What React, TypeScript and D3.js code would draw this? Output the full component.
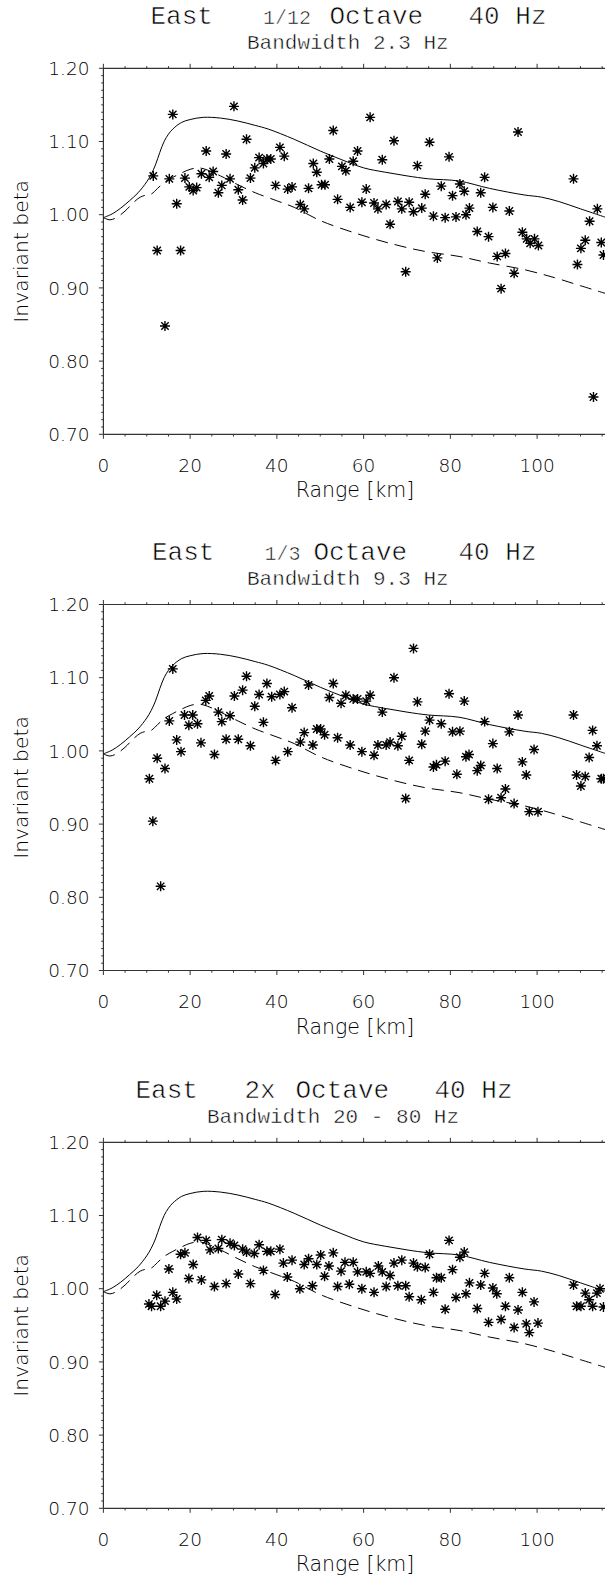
import React from 'react';
import * as d3 from 'd3';

// ---------- shared axis data ----------
const xTickValues = [0, 20, 40, 60, 80, 100];
const xMinorStep = 5;
const yTickValues = [0.7, 0.8, 0.9, 1.0, 1.1, 1.2];
const yTickLabels = ['0.70', '0.80', '0.90', '1.00', '1.10', '1.20'];
const yMinorStep = 0.01;
const xDomain = [0, 116];
const yDomain = [0.7, 1.2];

// ---------- model curves (same in every panel) ----------
const upperRange = [0, 2, 4, 6, 8, 10, 11, 12, 13, 14, 15, 16, 18, 20, 23, 27, 31, 35, 38, 44, 50, 55, 60, 65, 70, 75, 82, 89, 97, 101, 105, 110, 116];
const upperBeta = [0.996, 1.001, 1.009, 1.019, 1.030, 1.045, 1.055, 1.068, 1.085, 1.100, 1.110, 1.117, 1.126, 1.130, 1.133, 1.132, 1.128, 1.122, 1.117, 1.103, 1.087, 1.075, 1.064, 1.058, 1.053, 1.049, 1.046, 1.036, 1.027, 1.024, 1.018, 1.008, 0.996];
const lowerRange = [0, 1.5, 3, 5, 7, 8.5, 10, 11, 12.5, 14, 16, 18, 20, 22, 24, 27, 31, 35, 40, 44, 50, 58, 66, 74, 82, 89, 97, 104, 110, 116];
const lowerBeta = [0.996, 0.993, 0.996, 1.005, 1.017, 1.024, 1.027, 1.028, 1.036, 1.044, 1.051, 1.057, 1.062, 1.064, 1.061, 1.053, 1.041, 1.030, 1.019, 1.010, 0.992, 0.975, 0.961, 0.950, 0.943, 0.934, 0.925, 0.914, 0.903, 0.892];

// ---------- panel 1: 1/12 octave ----------
const p1Range = [11.5, 12.4, 14.2, 15.2, 16.0, 16.9, 17.8, 18.8, 19.8, 20.7, 21.5, 22.6, 23.7, 24.4, 25.3, 26.5, 27.3, 28.3, 29.2, 30.1, 31.1, 32.1, 33.0, 33.9, 34.9, 35.9, 36.9, 37.7, 38.6, 39.7, 40.7, 41.7, 42.5, 43.5, 45.4, 46.3, 47.3, 48.4, 49.2, 50.3, 51.1, 52.1, 53.0, 54.0, 55.0, 55.9, 56.9, 57.6, 58.6, 59.6, 60.6, 61.5, 62.4, 63.3, 64.3, 65.2, 66.1, 67.0, 67.9, 68.8, 69.7, 70.5, 71.5, 72.4, 73.4, 74.2, 75.2, 76.1, 77.0, 77.9, 78.8, 79.7, 80.5, 81.3, 82.2, 83.2, 83.6, 84.4, 86.2, 87.0, 87.9, 88.8, 89.8, 90.8, 91.7, 92.7, 93.6, 94.7, 95.6, 96.6, 97.6, 98.4, 99.4, 100.3, 108.4, 109.3, 110.1, 111.1, 112.1, 113.0, 113.9, 114.8, 115.3];
const p1Beta = [1.053, 0.951, 0.848, 1.049, 1.137, 1.015, 0.951, 1.050, 1.038, 1.033, 1.037, 1.056, 1.087, 1.051, 1.059, 1.030, 1.040, 1.083, 1.049, 1.148, 1.034, 1.020, 1.103, 1.050, 1.064, 1.078, 1.070, 1.076, 1.076, 1.040, 1.092, 1.080, 1.035, 1.038, 1.014, 1.008, 1.036, 1.070, 1.058, 1.041, 1.041, 1.076, 1.115, 1.021, 1.066, 1.060, 1.010, 1.073, 1.087, 1.017, 1.035, 1.133, 1.016, 1.008, 1.075, 1.014, 0.987, 1.101, 1.018, 1.008, 0.922, 1.017, 1.004, 1.067, 1.009, 1.028, 1.099, 0.998, 0.941, 1.039, 0.996, 1.079, 1.026, 0.997, 1.042, 1.032, 1.000, 1.009, 0.977, 1.030, 1.051, 0.970, 1.010, 0.943, 0.899, 0.947, 1.005, 0.920, 1.113, 0.976, 0.967, 0.961, 0.967, 0.958, 1.049, 0.932, 0.954, 0.965, 0.991, 0.751, 1.008, 0.962, 0.945];

// ---------- panel 2: 1/3 octave ----------
const p2Range = [10.6, 11.4, 12.4, 13.2, 14.2, 15.2, 16.0, 16.9, 17.9, 18.7, 19.7, 20.6, 21.7, 22.5, 23.6, 24.4, 25.6, 26.5, 27.3, 28.3, 29.2, 30.2, 31.1, 32.1, 33.0, 33.9, 34.9, 35.9, 36.9, 37.7, 38.8, 39.7, 40.7, 41.7, 42.5, 43.5, 45.4, 46.3, 47.3, 48.3, 49.2, 50.1, 51.0, 52.1, 53.0, 54.0, 54.8, 55.9, 56.9, 57.6, 58.6, 59.6, 60.6, 61.5, 62.4, 63.3, 64.3, 65.2, 66.1, 67.0, 67.9, 68.8, 69.7, 70.5, 71.5, 72.4, 73.4, 74.2, 75.2, 76.1, 76.8, 77.9, 78.8, 79.7, 80.5, 81.5, 82.2, 83.2, 83.6, 84.3, 86.2, 87.0, 87.9, 88.8, 89.8, 90.8, 91.7, 92.7, 93.6, 94.7, 95.6, 96.6, 97.5, 98.2, 99.3, 100.2, 108.4, 109.1, 110.1, 111.1, 112.0, 112.8, 113.8, 114.8, 115.3];
const p2Beta = [0.962, 0.904, 0.990, 0.815, 0.976, 1.041, 1.112, 1.015, 0.999, 1.049, 1.035, 1.049, 1.037, 1.011, 1.069, 1.075, 0.995, 1.053, 1.040, 1.016, 1.048, 1.075, 1.016, 1.083, 1.102, 1.007, 1.061, 1.077, 1.039, 1.092, 1.074, 0.987, 1.077, 1.081, 0.999, 1.059, 1.012, 1.025, 1.090, 1.008, 1.030, 1.030, 1.022, 1.073, 1.092, 1.018, 1.065, 1.076, 1.008, 1.071, 1.071, 0.999, 1.068, 1.076, 0.994, 1.008, 1.053, 1.008, 1.012, 1.100, 1.007, 1.020, 0.935, 0.987, 1.140, 1.067, 1.009, 1.027, 1.042, 0.978, 0.981, 1.037, 0.986, 1.078, 1.026, 0.968, 1.027, 1.068, 0.992, 0.995, 0.973, 0.980, 1.040, 0.934, 1.010, 0.976, 0.936, 0.948, 1.026, 0.928, 1.049, 0.985, 0.967, 0.917, 1.002, 0.917, 1.049, 0.967, 0.952, 0.965, 0.991, 1.028, 1.007, 0.962, 0.962];

// ---------- panel 3: 2x octave ----------
const p3Range = [10.5, 11.1, 12.3, 13.2, 14.2, 15.1, 16.0, 16.9, 17.8, 18.8, 19.7, 20.7, 21.7, 22.6, 23.7, 24.6, 25.6, 26.5, 27.3, 28.3, 29.2, 30.2, 31.1, 32.1, 33.0, 33.9, 34.8, 35.9, 36.9, 37.7, 38.6, 39.6, 40.7, 41.5, 42.4, 43.5, 45.3, 46.3, 47.3, 48.2, 49.2, 50.1, 51.0, 52.0, 53.0, 54.0, 54.8, 55.7, 56.7, 57.6, 58.6, 59.6, 60.6, 61.5, 62.4, 63.4, 64.3, 65.2, 66.1, 67.0, 67.9, 68.8, 69.7, 70.5, 71.5, 72.4, 73.3, 74.2, 75.2, 76.1, 76.8, 77.9, 78.8, 79.7, 80.5, 81.3, 82.2, 83.2, 83.6, 84.4, 86.2, 87.0, 87.9, 88.8, 89.8, 90.7, 91.7, 92.7, 93.6, 94.7, 95.6, 96.6, 97.5, 98.2, 99.3, 100.2, 108.4, 109.1, 110.1, 111.1, 112.0, 112.8, 113.8, 114.5, 115.3];
const p3Beta = [0.979, 0.976, 0.991, 0.976, 0.983, 1.027, 0.995, 0.986, 1.047, 1.049, 1.014, 1.033, 1.070, 1.012, 1.066, 1.053, 1.003, 1.055, 1.067, 1.007, 1.062, 1.059, 1.020, 1.054, 1.050, 1.007, 1.048, 1.060, 1.025, 1.051, 1.051, 0.992, 1.054, 1.035, 1.016, 1.039, 1.000, 1.033, 1.041, 1.004, 1.033, 1.046, 1.017, 1.031, 1.049, 1.003, 1.024, 1.036, 1.006, 1.036, 1.023, 1.000, 1.023, 1.021, 0.995, 1.031, 1.023, 1.003, 1.018, 1.035, 1.004, 1.039, 1.004, 0.989, 1.035, 1.030, 0.985, 1.029, 1.047, 0.995, 1.015, 1.015, 0.972, 1.066, 1.026, 0.988, 1.043, 1.050, 0.993, 1.008, 0.973, 1.005, 1.021, 0.954, 1.001, 0.993, 0.958, 0.976, 1.015, 0.947, 0.971, 0.995, 0.952, 0.940, 0.982, 0.953, 1.005, 0.976, 0.976, 0.994, 0.985, 0.976, 0.994, 1.000, 0.975];

// ---------- titles ----------
const p1Title = ['East', '1/12', 'Octave', '40 Hz'];
const p2Title = ['East', '1/3', 'Octave', '40 Hz'];
const p3Title = ['East', '2x', 'Octave', '40 Hz'];
const subtitles = ['Bandwidth 2.3 Hz', 'Bandwidth 9.3 Hz', 'Bandwidth 20 - 80 Hz'];
const xAxisTitle = 'Range [km]';
const yAxisTitle = 'Invariant beta';

// ---------- layout ----------
const W = 605;
const H = 1580;
const PLOT_LEFT = 103.4;
const PX_PER_KM = 4.337;
const PLOT_H = 366;
const MONO = "'Liberation Mono', 'DejaVu Sans Mono', monospace";
const SANS = "'DejaVu Sans', 'Liberation Sans', sans-serif";

type PanelProps = {
  top: number;
  title: string[];
  titleX: number[];
  smallIndex: number;
  subtitle: string;
  subtitleX: number;
  range: number[];
  beta: number[];
};

function Star({ x, y }: { x: number; y: number }) {
  const a = 5;
  const d = 3.7;
  return (
    <path
      d={`M${x - a},${y}H${x + a}M${x},${y - a}V${y + a}M${x - d},${y - d}L${x + d},${y + d}M${x - d},${y + d}L${x + d},${y - d}`}
      stroke="#000"
      strokeWidth={1.4}
      fill="none"
    />
  );
}

function Panel({ top, title, titleX, smallIndex, subtitle, subtitleX, range, beta }: PanelProps) {
  const x = d3.scaleLinear().domain(xDomain).range([PLOT_LEFT, PLOT_LEFT + (xDomain[1] - xDomain[0]) * PX_PER_KM]);
  const y = d3.scaleLinear().domain(yDomain).range([top + PLOT_H, top]);
  const bottom = top + PLOT_H;
  const right = x(xDomain[1]);

  const upperLine = d3.line<number>().x((_, i) => x(upperRange[i])).y((v) => y(v)).curve(d3.curveCatmullRom.alpha(0.5))(upperBeta) || '';
  const lowerLine = d3.line<number>().x((_, i) => x(lowerRange[i])).y((v) => y(v)).curve(d3.curveCatmullRom.alpha(0.5))(lowerBeta) || '';

  const xMinor = d3.range(xDomain[0], xDomain[1] + 0.001, xMinorStep).filter((v) => !xTickValues.includes(v));
  const yMinor = d3.range(0, 51).map((i) => yDomain[0] + i * yMinorStep).filter((v) => !yTickValues.some((t) => Math.abs(t - v) < 1e-6));

  const clipId = `clip-${Math.round(top)}`;
  const axisColor = '#333';

  return (
    <g>
      {/* titles (thin white outline lightens the mono face toward Courier) */}
      <text y={top - 44.6} fontFamily={MONO} fill="#000" stroke="#fff" strokeWidth={0.6}>
        {title.map((t, i) => (
          <tspan key={i} x={titleX[i]} fontSize={i === smallIndex ? 20 : 26}>
            {t}
          </tspan>
        ))}
      </text>
      <text x={subtitleX} y={top - 19.8} fontFamily={MONO} fontSize={21} fill="#000" stroke="#fff" strokeWidth={0.5}>
        {subtitle}
      </text>

      <defs>
        <clipPath id={clipId}>
          <rect x={PLOT_LEFT} y={top - 6} width={right - PLOT_LEFT} height={PLOT_H + 12} />
        </clipPath>
      </defs>

      {/* axes box */}
      <line x1={PLOT_LEFT} x2={right} y1={top} y2={top} stroke={axisColor} strokeWidth={1.2} />
      <line x1={PLOT_LEFT} x2={right} y1={bottom} y2={bottom} stroke={axisColor} strokeWidth={1.2} />
      <line x1={PLOT_LEFT} x2={PLOT_LEFT} y1={top} y2={bottom} stroke={axisColor} strokeWidth={1.2} />
      <line x1={right} x2={right} y1={top} y2={bottom} stroke={axisColor} strokeWidth={1.2} />

      {/* x ticks */}
      {xTickValues.map((v) => (
        <g key={`xt${v}`}>
          <line x1={x(v)} x2={x(v)} y1={bottom} y2={bottom + 4.5} stroke={axisColor} strokeWidth={1} />
          <line x1={x(v)} x2={x(v)} y1={top} y2={top - 4.5} stroke={axisColor} strokeWidth={1} />
          <text x={x(v)} y={bottom + 37.5} textAnchor="middle" fontFamily={SANS} fontWeight={200} fontSize={18.5} fill="#000">
            {v}
          </text>
        </g>
      ))}
      {xMinor.map((v) => (
        <g key={`xm${v}`}>
          <line x1={x(v)} x2={x(v)} y1={bottom} y2={bottom + 2.2} stroke={axisColor} strokeWidth={1} />
          <line x1={x(v)} x2={x(v)} y1={top} y2={top - 2.2} stroke={axisColor} strokeWidth={1} />
        </g>
      ))}

      {/* y ticks */}
      {yTickValues.map((v, i) => (
        <g key={`yt${v}`}>
          <line x1={PLOT_LEFT} x2={PLOT_LEFT - 4.5} y1={y(v)} y2={y(v)} stroke={axisColor} strokeWidth={1} />
          <text x={89.5} y={y(v) + 6.7} textAnchor="end" fontFamily={SANS} fontWeight={200} fontSize={18.5} fill="#000">
            {yTickLabels[i]}
          </text>
        </g>
      ))}
      {yMinor.map((v, i) => (
        <line key={`ym${i}`} x1={PLOT_LEFT} x2={PLOT_LEFT - 2.2} y1={y(v)} y2={y(v)} stroke={axisColor} strokeWidth={1} />
      ))}

      {/* axis titles */}
      <text x={(PLOT_LEFT + right) / 2} y={bottom + 63} textAnchor="middle" fontFamily={SANS} fontWeight={200} fontSize={20.5} fill="#000">
        {xAxisTitle}
      </text>
      <text
        transform={`translate(28.3, ${(top + bottom) / 2}) rotate(-90)`}
        textAnchor="middle"
        fontFamily={SANS}
        fontWeight={200}
        fontSize={20.3}
        fill="#000"
      >
        {yAxisTitle}
      </text>

      {/* curves and data */}
      <g clipPath={`url(#${clipId})`}>
        <path d={upperLine} fill="none" stroke="#000" strokeWidth={1} />
        <path d={lowerLine} fill="none" stroke="#000" strokeWidth={1} strokeDasharray="12,7" />
        {range.map((r, i) => (
          <Star key={i} x={x(r)} y={y(beta[i])} />
        ))}
      </g>
    </g>
  );
}

export default function App() {
  React.useEffect(() => {
    document.body.style.margin = '0';
  }, []);
  return (
    <svg
      width={W}
      height={H}
      viewBox={`0 0 ${W} ${H}`}
      style={{ position: 'absolute', left: 0, top: 0, background: '#fff', display: 'block' }}
    >
      <rect x={0} y={0} width={W} height={H} fill="#fff" />
      <Panel top={68.3} title={p1Title} titleX={[150.5, 263, 329.5, 468.5]} smallIndex={1} subtitle={subtitles[0]} subtitleX={247} range={p1Range} beta={p1Beta} />
      <Panel top={604.5} title={p2Title} titleX={[152, 264.5, 313.5, 458.5]} smallIndex={1} subtitle={subtitles[1]} subtitleX={247} range={p2Range} beta={p2Beta} />
      <Panel top={1142.3} title={p3Title} titleX={[135.5, 244.5, 295.5, 434.5]} smallIndex={-1} subtitle={subtitles[2]} subtitleX={207} range={p3Range} beta={p3Beta} />
    </svg>
  );
}
